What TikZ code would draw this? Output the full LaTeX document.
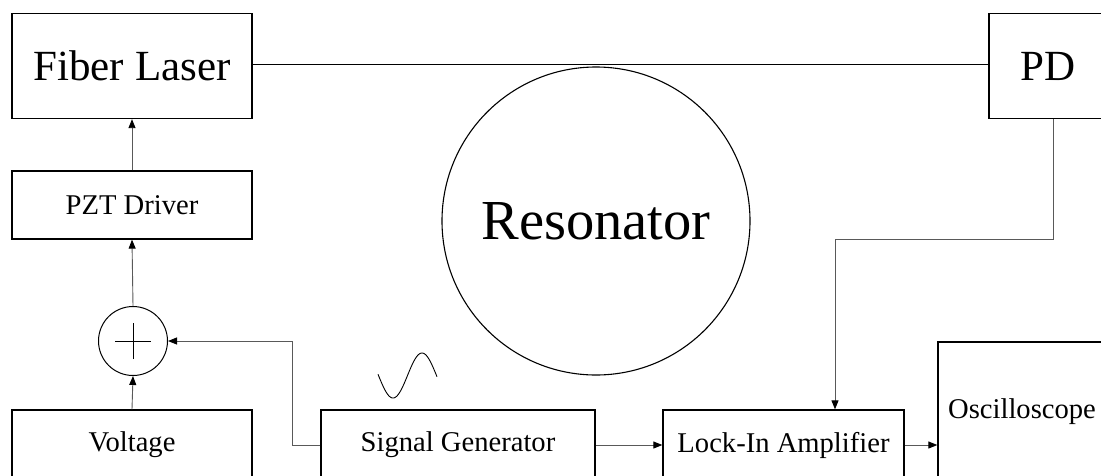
\documentclass[tikz,border=0pt]{standalone}
\usepackage{fontspec}
\setmainfont{Liberation Serif}
\usetikzlibrary{arrows.meta}
\tikzset{
  box/.style={draw=black, line width=1.3pt, rectangle, inner sep=0pt},
  small/.style={font=\fontsize{28.6}{34}\selectfont},
  big/.style={font=\fontsize{43}{50}\selectfont},
  conn/.style={draw=black!65, line width=0.9pt},
  arr/.style={-{Triangle[length=9pt,width=7pt,color=black]}},
}
\begin{document}
\begin{tikzpicture}[x=1pt,y=-1pt]
\useasboundingbox (0,0) rectangle (1101,475);
\clip (0,0) rectangle (1101,475);
% boxes
\node[box,big,minimum width=240pt,minimum height=105pt] (fl) at (132,66) {Fiber Laser};
\node[box,big,minimum width=118pt,minimum height=105pt] (pd) at (1048,66) {PD};
\node[box,small,minimum width=240pt,minimum height=68pt] (pzt) at (132,205) {PZT Driver};
\node[box,small,minimum width=240pt,minimum height=70pt] (vo) at (132,445) {Voltage};
\node[box,small,minimum width=274pt,minimum height=70pt] (sg) at (458,445) {Signal Generator};
\node[box,small,minimum width=241pt,minimum height=70pt] (li) at (783.5,445) {Lock-In Amplifier};
\node[box,minimum width=168pt,minimum height=138pt] (osc) at (1022,411) {};
\node[small,anchor=base] (osct) at (1022,418) {Oscilloscope};
% summing junction
\node[draw=black, line width=1pt, circle, minimum size=69pt, inner sep=0pt] (sum) at (133,341) {};
\draw[line width=1pt] ([xshift=-18pt]sum.center) -- ([xshift=18pt]sum.center);
\draw[line width=1pt] ([yshift=-18pt]sum.center) -- ([yshift=18pt]sum.center);
% resonator
\node[draw=black, line width=1.1pt, circle, minimum size=308pt, inner sep=0pt,
      font=\fontsize{56.5}{60}\selectfont] (res) at (596,221) {Resonator};
% sine wave
\draw[line width=0.9pt] plot[domain=378:437, samples=80, smooth]
  (\x, {375.5-22.5*sin(360*(\x-407.5)/58)});
% connectors
\draw[line width=1.3pt] ([yshift=1.5pt]fl.east) -- ([yshift=1.5pt]pd.west);
\draw[conn,arr] (pzt.north) -- (fl.south);
\draw[conn,arr] (sum.north) -- (pzt.south);
\draw[conn,arr] (vo.north) -- (sum.south);
\draw[conn,arr] (sg.west) -- ++(-28,0) |- (sum.east);
\draw[conn,arr] (sg.east) -- (li.west);
\draw[conn,arr] (li.east) -- (li.east -| osc.west);
\draw[conn,arr] ([xshift=5pt]pd.south) -- ++(0,120) -| ([xshift=51.5pt]li.north);
\end{tikzpicture}
\end{document}
